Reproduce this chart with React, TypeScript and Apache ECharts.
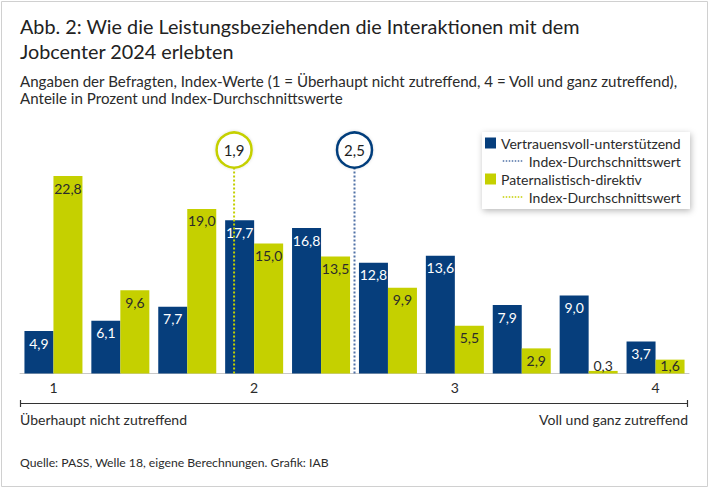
import React, { useEffect, useRef } from "react";
import * as echarts from "echarts";

const indexSteps = ["1", "1,33", "1,67", "2", "2,33", "2,67", "3", "3,33", "3,67", "4"];
const supportive = [4.9, 6.1, 7.7, 17.7, 16.8, 12.8, 13.6, 7.9, 9.0, 3.7];
const directive = [22.8, 9.6, 19.0, 15.0, 13.5, 9.9, 5.5, 2.9, 0.3, 1.6];
const meanSupportive = 2.5;
const meanDirective = 1.9;

const BLUE = "#063e7c";
const GREEN = "#c5d000";
const BLUE_LINE = "#4f71a6";
const TEXT = "#2b2b2b";
const FONT = "Lato, 'Noto Sans', sans-serif";

const CIRCLE_Y = 25.8;

const fmt = (v: number) => v.toFixed(1).replace(".", ",");

export default function App() {
  const ref = useRef<HTMLDivElement>(null);
  useEffect(() => {
    document.body.style.margin = "0";
    if (!ref.current) return;
    const chart = echarts.init(ref.current, undefined, { renderer: "svg" });

    const barLabel = (color: string) => ({
      show: true,
      position: "insideTop" as const,
      distance: 5,
      color,
      fontSize: 14,
      fontFamily: FONT,
      formatter: (p: any) => fmt(p.value),
    });
    const mkData = (arr: number[], color: string) =>
      arr.map((v) =>
        v < 2
          ? { value: v, label: { position: "insideBottom", distance: 1.5, color } }
          : v
      );

    const lineLegend = (name: string, top: number, color: string) => ({
      data: [name],
      left: 502,
      top,
      padding: 0,
      itemWidth: 21,
      itemHeight: 11,
      itemStyle: { color: "transparent", borderColor: "transparent", opacity: 0 },
      lineStyle: { width: 1.5, color, type: [1.5, 1.5] },
      formatter: () => "Index-Durchschnittswert",
      textStyle: { fontSize: 14, color: TEXT, fontFamily: FONT },
      selectedMode: false,
    });

    chart.setOption({
      animation: false,
      textStyle: { fontFamily: FONT },
      title: {
        text: "Abb. 2: Wie die Leistungsbeziehenden die Interaktionen mit dem\nJobcenter 2024 erlebten",
        subtext:
          "Angaben der Befragten, Index-Werte (1 = Überhaupt nicht zutreffend, 4 = Voll und ganz zutreffend),\nAnteile in Prozent und Index-Durchschnittswerte",
        left: 20,
        top: 13,
        padding: 0,
        itemGap: 9,
        textStyle: { fontSize: 19.8, fontWeight: "normal", color: "#222", lineHeight: 25, fontFamily: FONT },
        subtextStyle: { fontSize: 15.1, color: TEXT, lineHeight: 17.5, fontFamily: FONT },
      },
      grid: { left: 20, right: 21, top: 131, bottom: 115.5, containLabel: false },
      xAxis: [
        {
          type: "category",
          data: indexSteps,
          axisTick: { show: false },
          axisLine: { lineStyle: { color: "#c8c8c8", width: 1 } },
          axisLabel: { interval: 2, margin: 7, fontSize: 14, color: TEXT, fontFamily: FONT },
        },
        {
          type: "value",
          min: 5 / 6,
          max: 25 / 6,
          show: false,
        },
      ],
      yAxis: { type: "value", min: 0, max: 28, show: false, splitLine: { show: false } },
      legend: [
        {
          data: ["Vertrauensvoll-unterstützend"],
          left: 485,
          top: 136,
          padding: 0,
          icon: "rect",
          itemWidth: 11,
          itemHeight: 11,
          textStyle: { fontSize: 14, color: TEXT, fontFamily: FONT },
          selectedMode: false,
        },
        lineLegend("Index-Durchschnittswert (V)", 154, BLUE_LINE),
        {
          data: ["Paternalistisch-direktiv"],
          left: 485,
          top: 172,
          padding: 0,
          icon: "rect",
          itemWidth: 11,
          itemHeight: 11,
          textStyle: { fontSize: 14, color: TEXT, fontFamily: FONT },
          selectedMode: false,
        },
        lineLegend("Index-Durchschnittswert (P)", 190, GREEN),
      ],
      series: [
        {
          name: "Vertrauensvoll-unterstützend",
          type: "bar",
          data: mkData(supportive, "#ffffff"),
          barWidth: 29,
          barGap: "0%",
          itemStyle: { color: BLUE },
          label: barLabel("#ffffff"),
          z: 2,
        },
        {
          name: "Paternalistisch-direktiv",
          type: "bar",
          data: mkData(directive, TEXT),
          barWidth: 29,
          barGap: "0%",
          itemStyle: { color: GREEN },
          label: barLabel(TEXT),
          z: 2,
        },
        {
          name: "Index-Durchschnittswert (V)",
          type: "line",
          xAxisIndex: 1,
          data: [
            [meanSupportive, 0],
            [meanSupportive, CIRCLE_Y],
          ],
          symbol: "none",
          lineStyle: { color: BLUE_LINE, width: 2, type: [2, 2] },
          itemStyle: { color: BLUE_LINE },
          z: 5,
        },
        {
          name: "Index-Durchschnittswert (P)",
          type: "line",
          xAxisIndex: 1,
          data: [
            [meanDirective, 0],
            [meanDirective, CIRCLE_Y],
          ],
          symbol: "none",
          lineStyle: { color: GREEN, width: 2, type: [2, 2] },
          itemStyle: { color: GREEN },
          z: 5,
        },
        {
          name: "Mittelwert-Kreise",
          type: "scatter",
          xAxisIndex: 1,
          z: 6,
          symbol: "circle",
          symbolSize: 35,
          data: [
            {
              value: [meanDirective, CIRCLE_Y],
              itemStyle: { color: "#fff", borderColor: GREEN, borderWidth: 2.5, opacity: 1 },
            },
            {
              value: [meanSupportive, CIRCLE_Y],
              itemStyle: { color: "#fff", borderColor: BLUE, borderWidth: 2.5, opacity: 1 },
            },
          ],
          itemStyle: { opacity: 1, shadowBlur: 3, shadowColor: "rgba(0,0,0,0.15)" },
          label: {
            show: true,
            position: "inside",
            fontSize: 15,
            color: "#1e1e1e",
            fontFamily: FONT,
            formatter: (p: any) => fmt(p.value[0]),
          },
        },
      ],
      graphic: [
        {
          type: "rect",
          shape: { x: 1.5, y: 1.5, width: 706, height: 485 },
          style: { fill: "none", stroke: "#d0d0d0", lineWidth: 1 },
          silent: true,
          z: 0,
        },
        {
          type: "rect",
          shape: { x: 482, y: 132, width: 208, height: 77 },
          style: {
            fill: "#fff",
            shadowBlur: 6,
            shadowColor: "rgba(0,0,0,0.28)",
            shadowOffsetX: 1,
            shadowOffsetY: 2,
          },
          z: 1,
        },
        {
          type: "line",
          shape: { x1: 20, y1: 403.5, x2: 688, y2: 403.5 },
          style: { stroke: "#333", lineWidth: 1.2 },
        },
        {
          type: "line",
          shape: { x1: 20.5, y1: 400, x2: 20.5, y2: 407 },
          style: { stroke: "#333", lineWidth: 1.2 },
        },
        {
          type: "line",
          shape: { x1: 687.5, y1: 400, x2: 687.5, y2: 407 },
          style: { stroke: "#333", lineWidth: 1.2 },
        },
        {
          type: "text",
          x: 20,
          y: 419,
          style: {
            text: "Überhaupt nicht zutreffend",
            fill: TEXT,
            fontSize: 14,
            fontFamily: FONT,
            align: "left",
            verticalAlign: "middle",
            textAlign: "left",
            textVerticalAlign: "middle",
          },
        },
        {
          type: "text",
          x: 688,
          y: 419,
          style: {
            text: "Voll und ganz zutreffend",
            fill: TEXT,
            fontSize: 14,
            fontFamily: FONT,
            align: "right",
            verticalAlign: "middle",
            textAlign: "right",
            textVerticalAlign: "middle",
          },
        },
        {
          type: "text",
          x: 20,
          y: 462,
          style: {
            text: "Quelle: PASS, Welle 18, eigene Berechnungen. Grafik: IAB",
            fill: TEXT,
            fontSize: 12.2,
            fontFamily: FONT,
            align: "left",
            verticalAlign: "middle",
            textAlign: "left",
            textVerticalAlign: "middle",
          },
        },
      ],
    });
    return () => chart.dispose();
  }, []);
  return <div ref={ref} style={{ width: 710, height: 489 }} />;
}
